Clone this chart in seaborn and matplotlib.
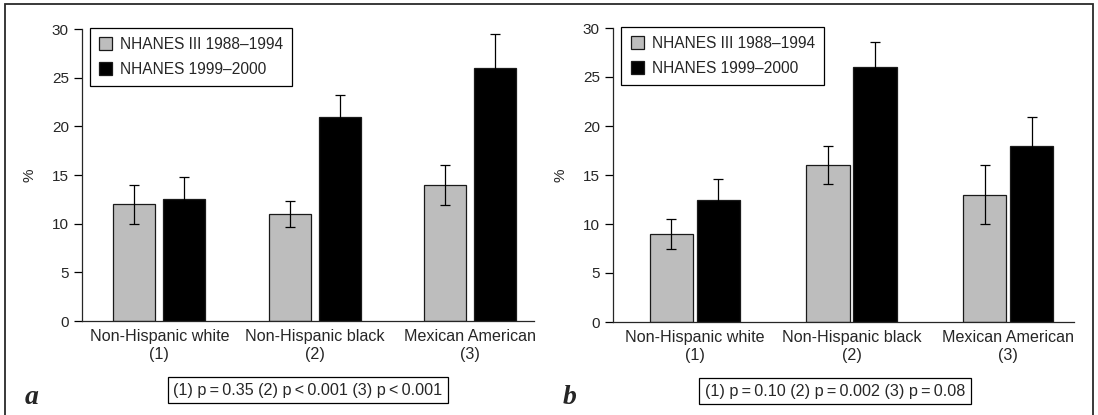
import matplotlib
matplotlib.use("Agg")
import matplotlib.pyplot as plt
from matplotlib.patches import Rectangle
import pandas as pd
import seaborn as sns

# Ethnic groups on the x axis and the two survey waves
groups = ["Non-Hispanic white\n(1)", "Non-Hispanic black\n(2)", "Mexican American\n(3)"]
surveys = ["NHANES III 1988\u20131994", "NHANES 1999\u20132000"]

# Panel a: prevalence (%) with standard errors
a_nhanes3 = [12.0, 11.0, 14.0]
a_nhanes3_err = [2.0, 1.35, 2.05]
a_nhanes99 = [12.5, 21.0, 26.0]
a_nhanes99_err = [2.3, 2.2, 3.5]

# Panel b: prevalence (%) with standard errors
b_nhanes3 = [9.0, 16.0, 13.0]
b_nhanes3_err = [1.5, 1.95, 3.0]
b_nhanes99 = [12.5, 26.0, 18.0]
b_nhanes99_err = [2.1, 2.55, 2.9]

a_pvalues = "(1) p\u2009=\u20090.35 (2) p\u2009<\u20090.001 (3) p\u2009<\u20090.001"
b_pvalues = "(1) p\u2009=\u20090.10 (2) p\u2009=\u20090.002 (3) p\u2009=\u20090.08"

yticks = [0, 5, 10, 15, 20, 25, 30]

GRAY = "#bdbdbd"

sns.set_style("ticks")
plt.rcParams["font.family"] = ["Liberation Sans", "DejaVu Sans"]
plt.rcParams["axes.linewidth"] = 0.9

W, H = 1098, 415
fig = plt.figure(figsize=(W / 100, H / 100), dpi=100)


def box(left, top, right, bottom):
    return [left / W, 1 - bottom / H, (right - left) / W, (bottom - top) / H]


def panel(ax, old, old_err, new, new_err, width, gap, xlim, legend_x):
    df = pd.DataFrame({
        "group": groups * 2,
        "survey": [surveys[0]] * len(groups) + [surveys[1]] * len(groups),
        "pct": old + new,
    })
    sns.barplot(data=df, x="group", y="pct", hue="survey", order=groups,
                hue_order=surveys, palette=[GRAY, "black"], saturation=1,
                width=width, gap=gap, errorbar=None, edgecolor="#1a1a1a",
                linewidth=0.9, ax=ax)
    for container, errs in zip(ax.containers, [old_err, new_err]):
        for bar, e in zip(container, errs):
            xc = bar.get_x() + bar.get_width() / 2
            ax.errorbar(xc, bar.get_height(), yerr=e, fmt="none", ecolor="black",
                        elinewidth=0.9, capsize=3.4, capthick=0.9, zorder=3)
    ax.set_xlim(*xlim)
    ax.set_ylim(0, 30)
    ax.set_yticks(yticks)
    ax.set_xlabel("")
    ax.set_ylabel("%", fontsize=11, labelpad=11)
    ax.tick_params(axis="y", length=6, width=0.9, labelsize=11, pad=3.5, color="black")
    ax.tick_params(axis="x", length=0, labelsize=11.6, pad=6)
    sns.despine(ax=ax)
    handles, labels = ax.get_legend_handles_labels()
    leg = ax.legend(handles, labels, loc="upper left",
                    bbox_to_anchor=(legend_x, 1.005), fontsize=11.2,
                    frameon=True, fancybox=False, framealpha=1,
                    edgecolor="black", handlelength=0.85, handleheight=0.85,
                    handletextpad=0.5, borderpad=0.6, labelspacing=0.65,
                    borderaxespad=0)
    leg.get_frame().set_linewidth(0.9)


ax_a = fig.add_axes(box(82, 29, 534, 321))
panel(ax_a, a_nhanes3, a_nhanes3_err, a_nhanes99, a_nhanes99_err,
      width=0.646, gap=0.167, xlim=(-0.497, 2.41), legend_x=0.017)

ax_b = fig.add_axes(box(613, 28, 1074, 322))
panel(ax_b, b_nhanes3, b_nhanes3_err, b_nhanes99, b_nhanes99_err,
      width=0.60, gap=0.083, xlim=(-0.522, 2.42), legend_x=0.018)

# Significance boxes under each panel
pkw = dict(ha="center", va="center", fontsize=11.6,
           bbox=dict(boxstyle="square,pad=0.33", fc="white", ec="black", lw=0.9))
fig.text(308 / W, 1 - 390 / H, a_pvalues, **pkw)
fig.text(835 / W, 1 - 391 / H, b_pvalues, **pkw)

# Panel letters
lkw = dict(fontsize=20, fontweight="bold", fontstyle="italic",
           family=["Liberation Serif", "DejaVu Serif"], ha="left", va="baseline")
fig.text(25 / W, 1 - 404 / H, "a", **lkw)
fig.text(563 / W, 1 - 404 / H, "b", **lkw)

# Outer frame around both panels
fig.patches.append(Rectangle((5 / W, -0.05), (1093 - 5) / W, 1.05 - 4.5 / H,
                             transform=fig.transFigure, fill=False,
                             edgecolor="#2a2a2a", linewidth=1.3))

fig.savefig("out.png", dpi=100)
